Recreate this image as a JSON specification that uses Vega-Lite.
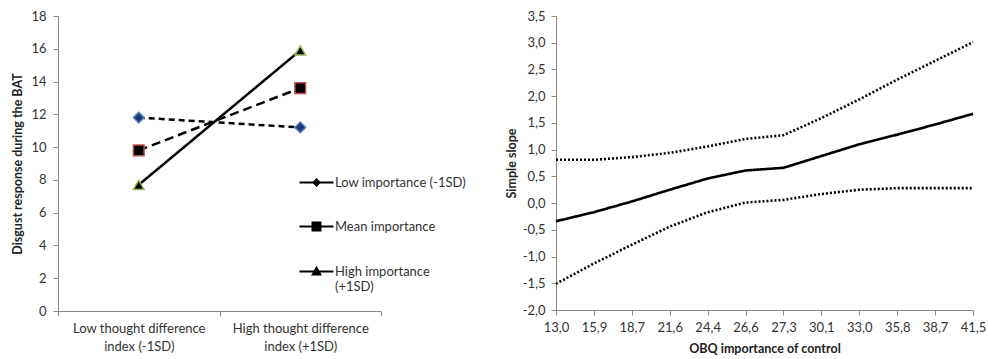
{
  "$schema": "https://vega.github.io/schema/vega-lite/v6.json",
  "background": "white",
  "padding": {"left": 11, "top": 10, "right": 5, "bottom": 2},
  "spacing": 39,
  "resolve": {"scale": {"strokeDash": "independent", "fill": "independent", "stroke": "independent", "shape": "independent"}, "legend": {"strokeDash": "independent", "fill": "independent", "stroke": "independent", "shape": "independent"}},
  "config": {
    "font": "Lato",
    "view": {"stroke": null},
    "axis": {
      "labelFont": "Lato", "labelFontSize": 13, "labelColor": "#333333",
      "titleFont": "Lato", "titleFontSize": 12.5, "titleFontWeight": "bold", "titleColor": "#222222",
      "domainColor": "#8a8a8a", "tickColor": "#8a8a8a", "tickSize": 5, "grid": false
    },
    "legend": {"labelFont": "Lato", "labelFontSize": 13, "labelColor": "#333333"}
  },
  "datasets": {
    "interaction": [
      {"condition": "Low thought difference|index (-1SD)", "group": "Low importance (-1SD)", "response": 11.8},
      {"condition": "High thought difference|index (+1SD)", "group": "Low importance (-1SD)", "response": 11.2},
      {"condition": "Low thought difference|index (-1SD)", "group": "Mean importance", "response": 9.8},
      {"condition": "High thought difference|index (+1SD)", "group": "Mean importance", "response": 13.6},
      {"condition": "Low thought difference|index (-1SD)", "group": "High importance (+1SD)", "response": 7.7},
      {"condition": "High thought difference|index (+1SD)", "group": "High importance (+1SD)", "response": 15.9}
    ],
    "slopes": [
      {"obq": "13,0", "series": "Simple slope", "slope": -0.34},
      {"obq": "15,9", "series": "Simple slope", "slope": -0.17},
      {"obq": "18,7", "series": "Simple slope", "slope": 0.03},
      {"obq": "21,6", "series": "Simple slope", "slope": 0.25},
      {"obq": "24,4", "series": "Simple slope", "slope": 0.46},
      {"obq": "26,6", "series": "Simple slope", "slope": 0.61},
      {"obq": "27,3", "series": "Simple slope", "slope": 0.66},
      {"obq": "30,1", "series": "Simple slope", "slope": 0.88},
      {"obq": "33,0", "series": "Simple slope", "slope": 1.10},
      {"obq": "35,8", "series": "Simple slope", "slope": 1.28},
      {"obq": "38,7", "series": "Simple slope", "slope": 1.47},
      {"obq": "41,5", "series": "Simple slope", "slope": 1.67},
      {"obq": "13,0", "series": "Upper bound", "slope": 0.81},
      {"obq": "15,9", "series": "Upper bound", "slope": 0.81},
      {"obq": "18,7", "series": "Upper bound", "slope": 0.86},
      {"obq": "21,6", "series": "Upper bound", "slope": 0.94},
      {"obq": "24,4", "series": "Upper bound", "slope": 1.06},
      {"obq": "26,6", "series": "Upper bound", "slope": 1.20},
      {"obq": "27,3", "series": "Upper bound", "slope": 1.27},
      {"obq": "30,1", "series": "Upper bound", "slope": 1.59},
      {"obq": "33,0", "series": "Upper bound", "slope": 1.94},
      {"obq": "35,8", "series": "Upper bound", "slope": 2.31},
      {"obq": "38,7", "series": "Upper bound", "slope": 2.66},
      {"obq": "41,5", "series": "Upper bound", "slope": 3.01},
      {"obq": "13,0", "series": "Lower bound", "slope": -1.51},
      {"obq": "15,9", "series": "Lower bound", "slope": -1.13},
      {"obq": "18,7", "series": "Lower bound", "slope": -0.78},
      {"obq": "21,6", "series": "Lower bound", "slope": -0.44},
      {"obq": "24,4", "series": "Lower bound", "slope": -0.17},
      {"obq": "26,6", "series": "Lower bound", "slope": 0.01},
      {"obq": "27,3", "series": "Lower bound", "slope": 0.06},
      {"obq": "30,1", "series": "Lower bound", "slope": 0.17},
      {"obq": "33,0", "series": "Lower bound", "slope": 0.25},
      {"obq": "35,8", "series": "Lower bound", "slope": 0.28},
      {"obq": "38,7", "series": "Lower bound", "slope": 0.28},
      {"obq": "41,5", "series": "Lower bound", "slope": 0.28}
    ]
  },
  "hconcat": [
    {
      "width": 323,
      "height": 295,
      "data": {"name": "interaction"},
      "encoding": {
        "x": {
          "field": "condition", "type": "nominal",
          "sort": ["Low thought difference|index (-1SD)", "High thought difference|index (+1SD)"],
          "scale": {"type": "band", "paddingInner": 0, "paddingOuter": 0},
          "axis": {"title": null, "labelAngle": 0, "tickBand": "extent", "labelExpr": "split(datum.label, '|')", "labelLineHeight": 18, "labelPadding": 6}
        },
        "y": {
          "field": "response", "type": "quantitative",
          "scale": {"domain": [0, 18], "nice": false},
          "axis": {"title": "Disgust response during the BAT", "values": [0, 2, 4, 6, 8, 10, 12, 14, 16, 18], "labelPadding": 7, "titlePadding": 6}
        }
      },
      "layer": [
        {
          "mark": {"type": "line", "color": "black", "strokeWidth": 2.5},
          "encoding": {
            "detail": {"field": "group", "type": "nominal"},
            "strokeDash": {
              "field": "group", "type": "nominal",
              "scale": {"domain": ["Mean importance", "Low importance (-1SD)", "High importance (+1SD)"], "range": [[9, 5], [6, 4], [1, 0]]},
              "legend": null
            }
          }
        },
        {
          "mark": {"type": "point", "filled": true, "opacity": 1, "strokeWidth": 1.5, "size": 115},
          "encoding": {
            "fill": {
              "field": "group", "type": "nominal",
              "scale": {"domain": ["Low importance (-1SD)", "Mean importance", "High importance (+1SD)"], "range": ["#1f3a6e", "#000000", "#000000"]},
              "legend": {
                "title": null, "orient": "none", "legendX": 252, "legendY": 160, "padding": 0,
                "rowPadding": 28, "labelOffset": 12, "symbolSize": 100,
                "symbolStrokeColor": "black", "symbolStrokeWidth": 2, "symbolOpacity": 1,
                "symbolType": {"expr": "datum.value == 'Low importance (-1SD)' ? 'M-3.4,0H3.4M0,-0.6L0.6,0L0,0.6L-0.6,0Z' : datum.value == 'Mean importance' ? 'M-3.4,0H3.4M-0.8,-0.8H0.8V0.8H-0.8Z' : 'M-3.4,0H3.4M0,-0.75L0.75,0.6H-0.75Z'"},
                "labelExpr": "datum.label == 'High importance (+1SD)' ? ['High importance', '(+1SD)'] : datum.label"
              }
            },
            "shape": {
              "field": "group", "type": "nominal",
              "scale": {"domain": ["High importance (+1SD)", "Low importance (-1SD)", "Mean importance"], "range": ["triangle-up", "diamond", "square"]},
              "legend": null
            },
            "stroke": {
              "field": "group", "type": "nominal",
              "scale": {"domain": ["High importance (+1SD)", "Mean importance", "Low importance (-1SD)"], "range": ["#9bbb59", "#c0504d", "#4f81bd"]},
              "legend": null
            }
          }
        }
      ]
    },
    {
      "width": 417,
      "height": 294,
      "data": {"name": "slopes"},
      "mark": {"type": "line", "color": "black", "strokeWidth": 2.6, "strokeCap": "butt"},
      "encoding": {
        "x": {
          "field": "obq", "type": "ordinal",
          "scale": {"type": "point", "padding": 0, "domain": ["13,0", "15,9", "18,7", "21,6", "24,4", "26,6", "27,3", "30,1", "33,0", "35,8", "38,7", "41,5"]},
          "axis": {"title": "OBQ importance of control", "labelAngle": 0, "labelPadding": 6, "titlePadding": 8}
        },
        "y": {
          "field": "slope", "type": "quantitative",
          "scale": {"domain": [-2, 3.5], "nice": false},
          "axis": {
            "title": "Simple slope",
            "values": [-2, -1.5, -1, -0.5, 0, 0.5, 1, 1.5, 2, 2.5, 3, 3.5],
            "labelExpr": "replace(replace(format(datum.value, '.1f'), '.', ','), '\u2212', '-')",
            "labelPadding": 6, "titlePadding": 4
          }
        },
        "detail": {"field": "series", "type": "nominal"},
        "strokeDash": {
          "field": "series", "type": "nominal",
          "scale": {"domain": ["Simple slope", "Upper bound", "Lower bound"], "range": [[1, 0], [2, 2], [2, 2]]},
          "legend": null
        }
      }
    }
  ]
}
